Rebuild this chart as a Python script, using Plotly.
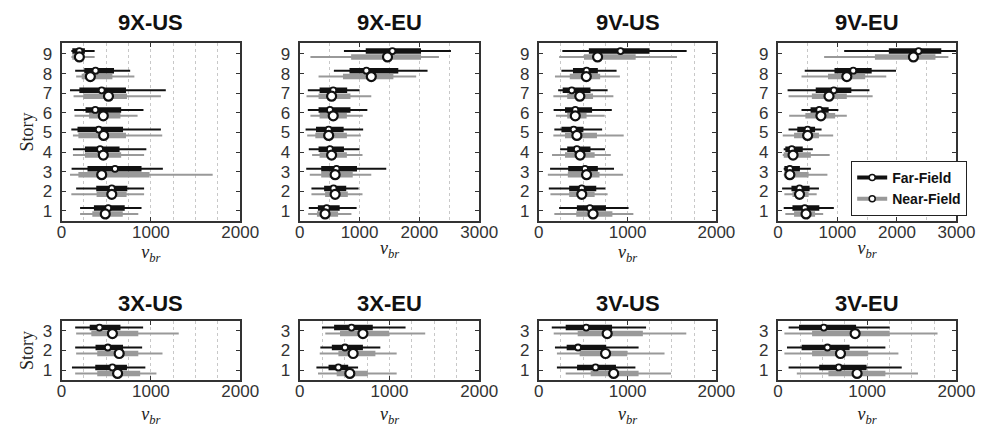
import plotly.graph_objects as go

# ---------------- data: (min, q1, median, q3, max) per story, story 1 first ----------------
STORIES_9 = [1, 2, 3, 4, 5, 6, 7, 8, 9]
STORIES_3 = [1, 2, 3]
PANEL_TITLES = ["9X-US", "9X-EU", "9V-US", "9V-EU", "3X-US", "3X-EU", "3V-US", "3V-EU"]
X_RANGES = [2000, 3000, 2000, 3000, 2000, 2000, 2000, 2000]
SERIES_NAMES = ["Far-Field", "Near-Field"]

US9X_FAR = [(207, 362, 522, 707, 895), (163, 388, 562, 736, 924), (112, 290, 598, 895, 1134),
            (127, 261, 431, 649, 949), (109, 178, 417, 688, 1112), (141, 268, 377, 667, 917),
            (94, 199, 449, 721, 1167), (152, 254, 380, 587, 768), (109, 120, 199, 261, 370)]
US9X_NEAR = [(207, 344, 489, 685, 859), (109, 392, 562, 728, 924), (94, 188, 449, 985, 1692),
             (127, 261, 467, 667, 924), (127, 188, 471, 721, 1127), (145, 308, 467, 659, 851),
             (134, 243, 525, 732, 1112), (163, 225, 322, 569, 815), (110, 120, 199, 250, 370)]

EU9X_FAR = [(152, 304, 451, 668, 951), (196, 408, 565, 777, 984), (109, 359, 614, 957, 1446),
            (152, 315, 505, 739, 1000), (98, 272, 484, 734, 1060), (136, 315, 505, 848, 1130),
            (136, 332, 560, 793, 1000), (571, 832, 1114, 1647, 2136), (739, 1103, 1549, 2027, 2527)]
EU9X_NEAR = [(141, 288, 424, 641, 864), (196, 424, 592, 804, 1049), (168, 359, 592, 886, 1196),
             (207, 332, 533, 788, 1049), (125, 261, 484, 788, 1022), (179, 332, 560, 788, 1054),
             (114, 315, 533, 848, 1196), (315, 723, 1196, 1565, 1946), (179, 859, 1467, 2027, 2326)]

US9V_FAR = [(229, 429, 575, 756, 1011), (113, 342, 484, 647, 749), (127, 331, 520, 665, 847),
            (240, 320, 429, 582, 745), (175, 255, 393, 502, 713), (167, 295, 411, 600, 822),
            (218, 269, 371, 582, 775), (255, 385, 538, 665, 876), (265, 564, 920, 1247, 1665)]
US9V_NEAR = [(175, 422, 611, 829, 1065), (131, 342, 484, 629, 775), (102, 327, 538, 684, 949),
             (149, 295, 465, 629, 811), (164, 295, 429, 655, 956), (193, 320, 411, 538, 742),
             (164, 320, 462, 611, 840), (182, 349, 535, 691, 913), (229, 509, 662, 1091, 1556)]

EU9V_FAR = [(98, 245, 451, 696, 940), (71, 228, 364, 533, 690), (98, 109, 201, 370, 554),
            (98, 125, 234, 418, 587), (179, 326, 500, 625, 734), (397, 549, 696, 853, 1016),
            (163, 636, 940, 1234, 1538), (451, 951, 1266, 1576, 1984), (1114, 1864, 2364, 2745, 3100)]
EU9V_NEAR = [(125, 272, 473, 625, 761), (109, 245, 364, 516, 652), (98, 109, 201, 516, 832),
             (82, 98, 255, 554, 870), (82, 272, 500, 690, 929), (190, 462, 723, 962, 1158),
             (179, 571, 859, 1158, 1592), (397, 842, 1158, 1467, 1821), (777, 1630, 2277, 2647, 2864)]

US3X_FAR = [(116, 377, 569, 732, 938), (152, 380, 518, 688, 902), (152, 315, 424, 659, 913)]
US3X_NEAR = [(152, 399, 627, 880, 1062), (163, 399, 645, 859, 1130), (163, 333, 569, 859, 1312)]

EU3X_FAR = [(186, 321, 431, 540, 650), (230, 358, 504, 704, 898), (248, 383, 577, 814, 1179)]
EU3X_NEAR = [(204, 412, 558, 759, 1080), (223, 431, 595, 843, 1080), (285, 449, 704, 996, 1398)]

US3V_FAR = [(204, 431, 639, 869, 1088), (182, 314, 442, 759, 1124), (146, 303, 533, 825, 1208)]
US3V_NEAR = [(303, 584, 843, 1124, 1489), (204, 460, 752, 996, 1416), (168, 438, 770, 1172, 1661)]

EU3V_FAR = [(120, 463, 682, 993, 1387), (102, 266, 555, 803, 1204), (120, 237, 515, 876, 1252)]
EU3V_NEAR = [(212, 566, 887, 1204, 1569), (73, 383, 701, 1011, 1350), (73, 383, 865, 1252, 1788)]

PANELS = [(US9X_FAR, US9X_NEAR), (EU9X_FAR, EU9X_NEAR), (US9V_FAR, US9V_NEAR), (EU9V_FAR, EU9V_NEAR),
          (US3X_FAR, US3X_NEAR), (EU3X_FAR, EU3X_NEAR), (US3V_FAR, US3V_NEAR), (EU3V_FAR, EU3V_NEAR)]

# ---------------- styling / layout ----------------
W, H = 994, 427
COLORS = ["#111111", "#999999"]
OFFSETS = [0.15, -0.15]
MED_SIZE = [6, 9]
COL_PX = [(58, 241), (302, 486), (547, 729), (792, 975)]
ROW_PX = [(43, 221), (321, 380)]
XTITLE_STANDOFF = [0, 11]
FRAME = "#333333"
TICKFONT = dict(family="Liberation Sans, Arial", size=17, color="#333333")
SERIF = "Liberation Serif, Times New Roman"

fig = go.Figure()
layout = dict(width=W, height=H, margin=dict(l=0, r=0, t=0, b=0),
              plot_bgcolor="white", paper_bgcolor="white", showlegend=True)
annotations = []

for i, (series_pair, title, xmax) in enumerate(zip(PANELS, PANEL_TITLES, X_RANGES)):
    row, col = divmod(i, 4)
    x0, x1 = COL_PX[col]
    yt, yb = ROW_PX[row]
    ax = "" if i == 0 else str(i + 1)
    stories = STORIES_9 if row == 0 else STORIES_3

    for s, data in enumerate(series_pair):
        wx, wy, bx, by = [], [], [], []
        for st, (mn, q1, md, q3, mx) in zip(stories, data):
            y = st + OFFSETS[s]
            wx += [mn, mx, None]; wy += [y, y, None]
            bx += [q1, q3, None]; by += [y, y, None]
        fig.add_trace(go.Scatter(x=wx, y=wy, mode="lines", line=dict(color=COLORS[s], width=2),
                                 xaxis="x" + ax, yaxis="y" + ax, showlegend=False, hoverinfo="skip"))
        fig.add_trace(go.Scatter(x=bx, y=by, mode="lines", line=dict(color=COLORS[s], width=5.5),
                                 xaxis="x" + ax, yaxis="y" + ax, showlegend=False, hoverinfo="skip"))
    for s, data in enumerate(series_pair):
        fig.add_trace(go.Scatter(
            x=[d[2] for d in data], y=[st + OFFSETS[s] for st in stories], mode="markers",
            marker=dict(symbol="circle", size=MED_SIZE[s], color="white",
                        line=dict(color="#111111", width=1.8 if s == 0 else 2.2)),
            xaxis="x" + ax, yaxis="y" + ax, showlegend=False))

    dtick_minor = 250 if xmax == 2000 else 500
    layout["xaxis" + ax] = dict(
        domain=[x0 / W, x1 / W], anchor="y" + ax, range=[0, xmax],
        tickmode="linear", tick0=0, dtick=1000,
        showgrid=True, gridcolor="#c8c8c8", griddash="dot", gridwidth=1,
        minor=dict(dtick=dtick_minor, tick0=0, showgrid=True, gridcolor="#c8c8c8", griddash="dot", gridwidth=1),
        showline=True, linecolor=FRAME, linewidth=2, mirror="allticks",
        ticks="inside", ticklen=4, tickcolor=FRAME, tickwidth=1,
        tickfont=TICKFONT, zeroline=False, ticklabelstandoff=-5,
        title=dict(text="<i>v</i><sub><i>br</i></sub>",
                   font=dict(family=SERIF, size=18, color="#222222"), standoff=XTITLE_STANDOFF[row]),
    )
    yr = [0.49, 9.56] if row == 0 else [0.52, 3.48]
    layout["yaxis" + ax] = dict(
        domain=[1 - yb / H, 1 - yt / H], anchor="x" + ax, range=yr,
        tickmode="array", tickvals=stories, ticktext=[str(s) for s in stories],
        showgrid=False, zeroline=False,
        showline=True, linecolor=FRAME, linewidth=2, mirror="allticks",
        ticks="inside", ticklen=4, tickcolor=FRAME, tickwidth=1,
        tickfont=TICKFONT, ticklabelstandoff=4,
    )
    if col == 0:
        layout["yaxis" + ax]["title"] = dict(text="Story", font=dict(family=SERIF, size=18, color="#222222"),
                                             standoff=4)
    annotations.append(dict(text="<b>%s</b>" % title, x=(x0 + x1) / 2 / W, y=1 - (23 if row == 0 else 303) / H,
                            xref="paper", yref="paper", showarrow=False, xanchor="center", yanchor="middle",
                            font=dict(family="Liberation Sans, Arial", size=22, color="#111111")))

for s, name in enumerate(SERIES_NAMES):
    fig.add_trace(go.Scatter(x=[None], y=[None], mode="lines+markers", name=name,
                             line=dict(color=COLORS[s], width=4),
                             marker=dict(symbol="circle", size=6, color="white",
                                         line=dict(color="#111111", width=1.5)),
                             xaxis="x4", yaxis="y4"))

layout["legend"] = dict(x=986 / W, y=1 - 216 / H, xanchor="right", yanchor="bottom",
                        bgcolor="white", bordercolor="#222222", borderwidth=1,
                        font=dict(family="Liberation Sans, Arial", size=14, color="#111111", weight="bold"),
                        tracegroupgap=0, itemwidth=30)
layout["annotations"] = annotations
fig.update_layout(**layout)
fig.write_html("out.html")
